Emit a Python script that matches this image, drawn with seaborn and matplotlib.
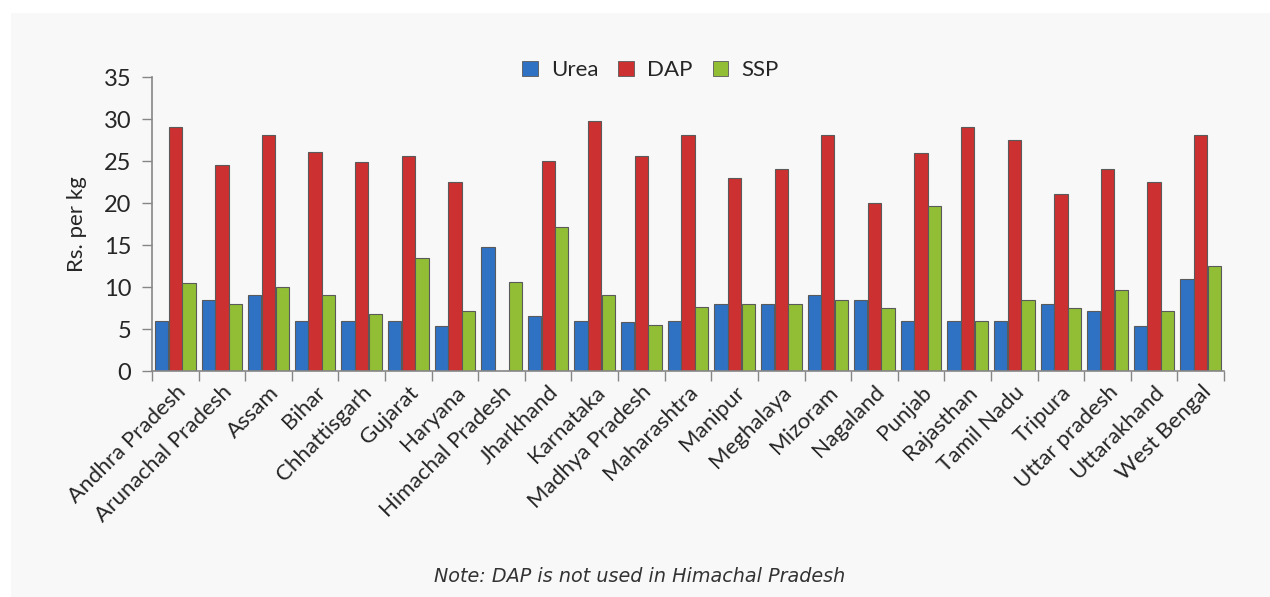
"""
Fertilizer prices by state (Urea, DAP, SSP)
"""

import numpy as np
import pandas as pd
import matplotlib
matplotlib.use('Agg')
import matplotlib.pyplot as plt
from matplotlib.patches import Rectangle, Patch
import seaborn as sns

states = ['Andhra Pradesh', 'Arunachal Pradesh', 'Assam', 'Bihar', 'Chhattisgarh',
          'Gujarat', 'Haryana', 'Himachal Pradesh', 'Jharkhand', 'Karnataka',
          'Madhya Pradesh', 'Maharashtra', 'Manipur', 'Meghalaya', 'Mizoram',
          'Nagaland', 'Punjab', 'Rajasthan', 'Tamil Nadu', 'Tripura',
          'Uttar pradesh', 'Uttarakhand', 'West Bengal']

urea = [5.9, 8.5, 9.0, 6.0, 6.0, 6.0, 5.4, 14.8, 6.5, 5.9, 5.8, 5.9,
        8.0, 8.0, 9.0, 8.5, 5.9, 5.9, 6.0, 8.0, 7.2, 5.4, 11.0]
# DAP is not used in Himachal Pradesh
dap = [29.0, 24.5, 28.1, 26.1, 24.9, 25.6, 22.5, np.nan, 25.0, 29.8, 25.6, 28.1,
       23.0, 24.1, 28.1, 20.0, 25.9, 29.0, 27.5, 21.1, 24.1, 22.5, 28.1]
ssp = [10.5, 8.0, 10.0, 9.0, 6.8, 13.4, 7.2, 10.6, 17.1, 9.0, 5.5, 7.6,
       8.0, 8.0, 8.5, 7.5, 19.7, 6.0, 8.5, 7.5, 9.6, 7.2, 12.5]

series = ['Urea', 'DAP', 'SSP']
colors = ['#2F72C4', '#CC3030', '#92BE36']

df = pd.DataFrame({'State': states, 'Urea': urea, 'DAP': dap, 'SSP': ssp})
long = df.melt(id_vars='State', var_name='Fertilizer', value_name='Price')

sns.set_style('white')
plt.rcParams['font.family'] = ['Lato', 'DejaVu Sans']

fig = plt.figure(figsize=(12.7, 5.97), dpi=100)
fig.patch.set_facecolor('white')
fig.patches.append(Rectangle((11 / 1270, 0), 1 - 11 / 1270, 1 - 13 / 597,
                             transform=fig.transFigure, facecolor='#f8f8f8',
                             edgecolor='none', zorder=-10))

ax = fig.add_axes([152 / 1270, 1 - 371 / 597, (1224 - 152) / 1270, (371 - 77) / 597])
ax.set_facecolor('none')

sns.barplot(data=long, x='State', y='Price', hue='Fertilizer', hue_order=series,
            palette=colors, saturation=1, width=0.88, gap=0.03,
            edgecolor='#5a5a5a', linewidth=0.8, ax=ax, legend=False)

ax.set_xlim(-0.5, len(states) - 0.5)
ax.set_ylim(0, 35)
ax.set_yticks(np.arange(0, 36, 5))
ax.set_ylabel('Rs. per kg', fontsize=16, labelpad=12)
ax.set_xlabel('')

ax.tick_params(axis='y', labelsize=17, length=7, width=1, color='#868686',
               direction='out', left=True, pad=8)
ax.tick_params(axis='x', length=0, labelsize=16, pad=8)
ax.set_xticks(range(len(states)))
ax.set_xticklabels(states, rotation=45, ha='right', rotation_mode='anchor')

# boundary tick marks between categories
ax.set_xticks(np.arange(-0.5, len(states), 1), minor=True)
ax.tick_params(axis='x', which='minor', length=7, width=1, color='#868686',
               direction='out', bottom=True)

for side in ['top', 'right']:
    ax.spines[side].set_visible(False)
for side in ['left', 'bottom']:
    ax.spines[side].set_color('#868686')
    ax.spines[side].set_linewidth(1.2)

handles = [Patch(facecolor=c, edgecolor='#5a5a5a', linewidth=0.6) for c in colors]
ax.legend(handles, series, loc='upper center', bbox_to_anchor=(0.465, 1.125), ncol=3,
          frameon=False, fontsize=16, handlelength=0.7, handleheight=0.7,
          columnspacing=0.9, handletextpad=0.6)

fig.text(0.504, 1 - 577 / 597, 'Note: DAP is not used in Himachal Pradesh',
         ha='center', va='center', fontsize=13.8, style='italic', color='#333333',
         family=['DejaVu Sans'])

plt.savefig('out.png', dpi=100)
